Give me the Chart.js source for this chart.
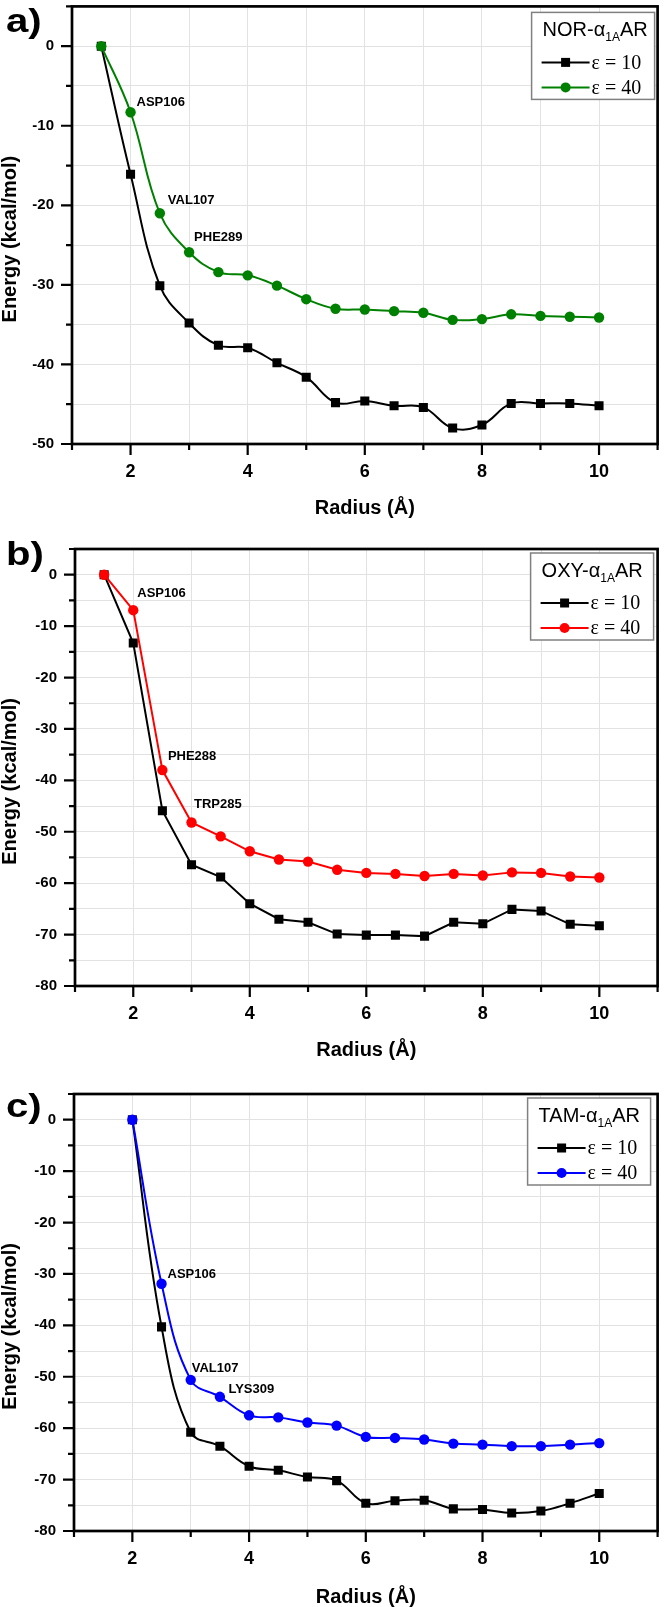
<!DOCTYPE html>
<html>
<head>
<meta charset="utf-8">
<script src="https://cdn.jsdelivr.net/npm/chart.js@4.4.0/dist/chart.umd.min.js"></script>
<style>
html,body{margin:0;padding:0;background:#fff;}
body{width:664px;height:1607px;position:relative;overflow:hidden;}
.p{position:absolute;left:0;width:664px;}
.lab{position:absolute;font-family:"Liberation Sans",Arial,sans-serif;font-weight:bold;font-size:34px;line-height:34px;color:#000;transform:scale(1.18,1);transform-origin:0 0;}
</style>
</head>
<body>
<div class="p" style="top:0;height:520px"><canvas id="ca" width="664" height="520"></canvas></div>
<div class="p" style="top:520px;height:540px"><canvas id="cb" width="664" height="540"></canvas></div>
<div class="p" style="top:1060px;height:547px"><canvas id="cc" width="664" height="547"></canvas></div>
<div class="lab" style="left:6px;top:3px">a)</div>
<div class="lab" style="left:6px;top:536px">b)</div>
<div class="lab" style="left:6px;top:1088px">c)</div>
<script>
// ---------- DATA ----------
// Panel a: NOR-α1AAR
const norRadius = [1.5,2,2.5,3,3.5,4,4.5,5,5.5,6,6.5,7,7.5,8,8.5,9,9.5,10];
const norEps10 = [0,-16.1,-30.1,-34.8,-37.6,-37.9,-39.8,-41.6,-44.8,-44.6,-45.2,-45.4,-48.0,-47.6,-44.9,-44.9,-44.9,-45.2];
const norEps40 = [0,-8.3,-21.0,-25.9,-28.4,-28.8,-30.1,-31.8,-33.0,-33.1,-33.3,-33.5,-34.4,-34.3,-33.7,-33.9,-34.0,-34.1];
const norResidues = ['ASP106','VAL107','PHE289'];
const norResidueRadius = [2,2.5,3];

// Panel b: OXY-α1AAR
const oxyRadius = [1.5,2,2.5,3,3.5,4,4.5,5,5.5,6,6.5,7,7.5,8,8.5,9,9.5,10];
const oxyEps10 = [0,-13.3,-45.9,-56.4,-58.8,-64.0,-67.0,-67.6,-69.9,-70.1,-70.1,-70.3,-67.6,-67.9,-65.1,-65.4,-68.0,-68.3];
const oxyEps40 = [0,-6.9,-38.0,-48.2,-50.9,-53.8,-55.4,-55.8,-57.4,-58.0,-58.2,-58.6,-58.2,-58.5,-57.9,-58.0,-58.7,-58.9];
const oxyResidues = ['ASP106','PHE288','TRP285'];
const oxyResidueRadius = [2,2.5,3];

// Panel c: TAM-α1AAR
const tamRadius = [2,2.5,3,3.5,4,4.5,5,5.5,6,6.5,7,7.5,8,8.5,9,9.5,10];
const tamEps10 = [0,-40.3,-60.8,-63.5,-67.4,-68.2,-69.5,-70.2,-74.6,-74.1,-74.0,-75.7,-75.8,-76.5,-76.1,-74.6,-72.7];
const tamEps40 = [0,-31.9,-50.6,-53.9,-57.5,-57.9,-58.9,-59.5,-61.7,-61.9,-62.2,-63.0,-63.2,-63.5,-63.5,-63.2,-62.9];
const tamResidues = ['ASP106','VAL107','LYS309'];
const tamResidueRadius = [2.5,3,3.5];

// Tick labels
const xTickLabels = ['2','4','6','8','10'];
const yTickLabelsA = ['0','-10','-20','-30','-40','-50'];
const yTickLabelsBC = ['0','-10','-20','-30','-40','-50','-60','-70','-80'];
const seriesNames = ['ε = 10','ε = 40'];

// ---------- DRAWING ----------
const SANS = '"Liberation Sans", Arial, Helvetica, sans-serif';
const SERIF = '"Liberation Serif", "Times New Roman", serif';

function makePanel(id, cfg) {
  const panelPlugin = {
    id: 'panelDecor',
    afterDraw(chart) {
      const ctx = chart.ctx, a = chart.chartArea;
      const xs = chart.scales.x, ys = chart.scales.y;
      ctx.save();
      // tick marks (outward, major/minor)
      ctx.strokeStyle = '#000';
      ctx.lineWidth = 2.2;
      ctx.beginPath();
      xs.ticks.forEach(t => {
        const px = xs.getPixelForValue(t.value);
        const len = (t.value % 2 === 0) ? 11 : 6;
        ctx.moveTo(px, a.bottom); ctx.lineTo(px, a.bottom + len);
      });
      ys.ticks.forEach(t => {
        const py = ys.getPixelForValue(t.value);
        const len = (t.value % 10 === 0) ? 11 : 6;
        ctx.moveTo(a.left - len, py); ctx.lineTo(a.left, py);
      });
      ctx.stroke();
      // frame
      ctx.lineWidth = 2.7;
      ctx.strokeRect(a.left, a.top, a.right - a.left, a.bottom - a.top);

      // residue annotations, anchored on the ε = 40 points
      ctx.fillStyle = '#000';
      ctx.font = 'bold 13px ' + SANS;
      ctx.textAlign = 'left';
      ctx.textBaseline = 'middle';
      cfg.residues.forEach((name, i) => {
        const r = cfg.residueRadius[i];
        const idx = cfg.x.indexOf(r);
        const px = xs.getPixelForValue(r);
        const py = ys.getPixelForValue(cfg.e40[idx]);
        ctx.fillText(name, px + cfg.annOff[i][0], py + cfg.annOff[i][1]);
      });

      // legend
      const bw = 123, bh = 87;
      const bx = a.right - cfg.legRight - bw, by = a.top + cfg.legTop;
      ctx.fillStyle = '#fff';
      ctx.fillRect(bx, by, bw, bh);
      ctx.strokeStyle = '#808080';
      ctx.lineWidth = 1.5;
      ctx.strokeRect(bx, by, bw, bh);
      ctx.fillStyle = '#000';
      ctx.textBaseline = 'alphabetic';
      let tx = bx + 11;
      const ty = by + 24;
      ctx.font = '20px ' + SANS;
      const t1 = cfg.name + '-α';
      ctx.fillText(t1, tx, ty); tx += ctx.measureText(t1).width;
      ctx.font = '12px ' + SANS;
      ctx.fillText('1A', tx, ty + 5); tx += ctx.measureText('1A').width;
      ctx.font = '20px ' + SANS;
      ctx.fillText('AR', tx, ty);
      const rows = [
        {label: seriesNames[0], color: '#000', style: 'rect'},
        {label: seriesNames[1], color: cfg.color, style: 'circle'}
      ];
      rows.forEach((row, i) => {
        const cy = by + 50 + i * 25;
        ctx.strokeStyle = row.color;
        ctx.lineWidth = 2;
        ctx.beginPath(); ctx.moveTo(bx + 10, cy); ctx.lineTo(bx + 58, cy); ctx.stroke();
        ctx.fillStyle = row.color;
        if (row.style === 'rect') { ctx.fillRect(bx + 34 - 4.5, cy - 4.5, 9, 9); }
        else { ctx.beginPath(); ctx.arc(bx + 34, cy, 5, 0, Math.PI * 2); ctx.fill(); }
        ctx.fillStyle = '#000';
        ctx.font = '20px ' + SERIF;
        ctx.textBaseline = 'middle';
        ctx.fillText(row.label, bx + 60, cy + 1);
      });
      ctx.restore();
    }
  };

  return new Chart(document.getElementById(id), {
    type: 'line',
    data: {
      datasets: [
        {
          label: seriesNames[1],
          data: cfg.x.map((x, i) => ({x: x, y: cfg.e40[i]})),
          borderColor: cfg.color, backgroundColor: cfg.color,
          pointStyle: 'circle', pointRadius: 5.2, pointBorderWidth: 0,
          borderWidth: 2, tension: cfg.tension, fill: false
        },
        {
          label: seriesNames[0],
          data: cfg.x.map((x, i) => ({x: x, y: cfg.e10[i]})),
          borderColor: '#000', backgroundColor: '#000',
          pointStyle: 'rect', pointRadius: 6.4, pointBorderWidth: 0,
          borderWidth: 2, tension: cfg.tension, fill: false
        }
      ]
    },
    options: {
      responsive: false,
      animation: false,
      events: [],
      layout: {padding: {left: 0, top: cfg.top, right: cfg.right, bottom: 0}},
      plugins: {legend: {display: false}, tooltip: {enabled: false}},
      scales: {
        x: {
          type: 'linear', min: 1, max: 11,
          ticks: {
            stepSize: 1, autoSkip: false, maxRotation: 0, minRotation: 0,
            padding: 0, color: '#000',
            font: {family: SANS, size: 18, weight: 'bold', lineHeight: 1},
            callback: v => xTickLabels.includes(String(v)) ? String(v) : ''
          },
          grid: {color: '#e2e2e2', lineWidth: 1, drawTicks: true, tickLength: 19, tickColor: 'rgba(0,0,0,0)'},
          border: {display: false},
          title: {
            display: true, text: 'Radius (Å)', color: '#000',
            font: {family: SANS, size: 20, weight: 'bold', lineHeight: 1},
            padding: {top: 0, bottom: cfg.xTitlePad}
          },
          afterFit: s => { s.height = cfg.xh; }
        },
        y: {
          type: 'linear', min: cfg.ymin, max: 5,
          ticks: {
            stepSize: 5, padding: 0, color: '#000',
            font: {family: SANS, size: 15, weight: 'bold', lineHeight: 0.8},
            callback: v => cfg.yLabels.includes(String(v)) ? String(v) : ''
          },
          grid: {color: '#e2e2e2', lineWidth: 1, drawTicks: true, tickLength: 18, tickColor: 'rgba(0,0,0,0)'},
          border: {display: false},
          title: {
            display: true, text: 'Energy (kcal/mol)     ', color: '#000',
            font: {family: SANS, size: 20, weight: 'bold', lineHeight: 1},
            padding: {top: 0, bottom: 0}
          },
          afterFit: s => { s.width = cfg.left; }
        }
      }
    },
    plugins: [panelPlugin]
  });
}

makePanel('ca', {
  name: 'NOR', color: '#008000', x: norRadius, e10: norEps10, e40: norEps40,
  residues: norResidues, residueRadius: norResidueRadius,
  annOff: [[6,-10],[8,-12.5],[5,-14.5]],
  tension: 0.4, ymin: -50, yLabels: yTickLabelsA,
  top: 6, right: 4, left: 72, xh: 76, xTitlePad: 2, legTop: 6, legRight: 3
});
makePanel('cb', {
  name: 'OXY', color: '#ff0000', x: oxyRadius, e10: oxyEps10, e40: oxyEps40,
  residues: oxyResidues, residueRadius: oxyResidueRadius,
  annOff: [[4,-16.5],[5.5,-14],[2.5,-18]],
  tension: 0, ymin: -80, yLabels: yTickLabelsBC,
  top: 29, right: 2, left: 75, xh: 74, xTitlePad: 0, legTop: 4, legRight: 4
});
makePanel('cc', {
  name: 'TAM', color: '#0000ff', x: tamRadius, e10: tamEps10, e40: tamEps40,
  residues: tamResidues, residueRadius: tamResidueRadius,
  annOff: [[6,-9],[1,-11],[8.5,-7]],
  tension: 0.4, ymin: -80, yLabels: yTickLabelsBC,
  top: 34, right: 3, left: 74, xh: 76, xTitlePad: 0, legTop: 4, legRight: 7
});
</script>
</body>
</html>
